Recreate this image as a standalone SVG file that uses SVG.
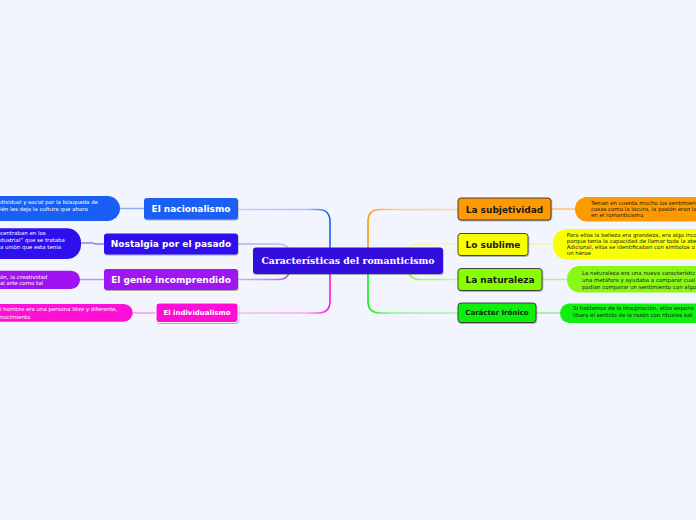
<svg xmlns="http://www.w3.org/2000/svg" width="696" height="520" viewBox="0 0 696 520">
<defs>
<style>
.nt{font-family:"DejaVu Sans",Verdana,sans-serif;font-weight:bold;font-size:9px;text-anchor:middle}
.sm{font-size:7px}
.bt{font-family:"DejaVu Sans",Verdana,sans-serif;font-size:5.45px}
.w{fill:#ffffff}
.k{fill:#1a1a1a}
.cn{fill:none;stroke-width:1.6;stroke-linecap:round}
.rb{stroke:#333333;stroke-width:0.9}
</style>
<filter id="sh" x="-10%" y="-20%" width="120%" height="160%">
<feDropShadow dx="0.6" dy="1" stdDeviation="0.6" flood-color="#000" flood-opacity="0.3"/>
</filter>
<linearGradient id="gB" gradientUnits="userSpaceOnUse" x1="238" y1="0" x2="330" y2="0"><stop offset="0" stop-color="#c2d2fa"/><stop offset="0.75" stop-color="#a9c0f8"/><stop offset="1" stop-color="#1a5ff3"/></linearGradient>
<linearGradient id="gN" gradientUnits="userSpaceOnUse" x1="238" y1="0" x2="290" y2="0"><stop offset="0" stop-color="#b6a8f6"/><stop offset="1" stop-color="#c8b8f8"/></linearGradient>
<linearGradient id="gG" gradientUnits="userSpaceOnUse" x1="238" y1="0" x2="290" y2="0"><stop offset="0" stop-color="#d8b0f8"/><stop offset="1" stop-color="#b060f0"/></linearGradient>
<linearGradient id="gM" gradientUnits="userSpaceOnUse" x1="238" y1="0" x2="330" y2="0"><stop offset="0" stop-color="#fbb8ef"/><stop offset="0.75" stop-color="#fca8ec"/><stop offset="1" stop-color="#ff10d4"/></linearGradient>
<linearGradient id="gO" gradientUnits="userSpaceOnUse" x1="458" y1="0" x2="368" y2="0"><stop offset="0" stop-color="#fcd6a6"/><stop offset="0.75" stop-color="#fcc888"/><stop offset="1" stop-color="#ff9a10"/></linearGradient>
<linearGradient id="gY" gradientUnits="userSpaceOnUse" x1="458" y1="0" x2="408" y2="0"><stop offset="0" stop-color="#f4f8a8"/><stop offset="1" stop-color="#f8fa80"/></linearGradient>
<linearGradient id="gL" gradientUnits="userSpaceOnUse" x1="458" y1="0" x2="408" y2="0"><stop offset="0" stop-color="#c8f8a0"/><stop offset="1" stop-color="#9cf050"/></linearGradient>
<linearGradient id="gE" gradientUnits="userSpaceOnUse" x1="458" y1="0" x2="368" y2="0"><stop offset="0" stop-color="#a8f8a8"/><stop offset="0.75" stop-color="#88f888"/><stop offset="1" stop-color="#10ee10"/></linearGradient>
</defs>
<rect width="696" height="520" fill="#f2f5fd"/>

<g id="connectors">
<path class="cn" stroke="url(#gB)" d="M238,209.5 H318 Q330,209.5 330,221.5 V250"/>
<path class="cn" stroke="url(#gN)" d="M238,244 H278 Q290,244 290,256"/>
<path class="cn" stroke="url(#gG)" d="M238,279.5 H278 Q290,279.5 290,267"/>
<path class="cn" stroke="url(#gM)" d="M238,313 H318 Q330,313 330,301 V272"/>
<path class="cn" stroke="url(#gO)" d="M458,209.5 H380 Q368,209.5 368,221.5 V250"/>
<path class="cn" stroke="url(#gY)" d="M458,244 H420 Q408,244 408,256"/>
<path class="cn" stroke="url(#gL)" d="M458,279.5 H420 Q408,279.5 408,267"/>
<path class="cn" stroke="url(#gE)" d="M458,313 H380 Q368,313 368,301 V272"/>
<path class="cn" stroke="#8fb0f6" d="M118,208.5 H144"/>
<path class="cn" stroke="#8f80f2" d="M79,243 H92 L96,244 H104"/>
<path class="cn" stroke="#c890f4" d="M78,279.5 H104"/>
<path class="cn" stroke="#fb98ea" d="M130,313 H156"/>
<path class="cn" stroke="#fcc27c" d="M551,209 H577"/>
<path class="cn" stroke="#f4f890" d="M528,244 H555"/>
<path class="cn" stroke="#b4f27c" d="M542,279.5 H569"/>
<path class="cn" stroke="#8cf48c" d="M536,313 H562"/>
</g>

<g id="center">
<rect x="253" y="247.5" width="190" height="26.5" rx="3" fill="#3210dc" filter="url(#sh)"/>
<text x="348" y="264.3" text-anchor="middle" font-family="'DejaVu Serif','Liberation Serif',serif" font-weight="bold" font-size="9.3" fill="#ffffff">Características del romanticismo</text>
</g>

<g id="nacionalismo">
<rect x="-20" y="196" width="140" height="25" rx="12.5" fill="#1a5ff3"/>
<text class="bt w" x="0" y="204.3">dividual y social por la búsqueda de</text>
<text class="bt w" x="0" y="211">ién les dejo la cultura que ahora</text>
<rect x="144" y="198" width="94" height="21.5" rx="3" fill="#1a5ff3" filter="url(#sh)"/>
<text class="nt w" x="191" y="212.3">El nacionalismo</text>
</g>

<g id="nostalgia">
<rect x="-20" y="228.3" width="101" height="30.7" rx="14" fill="#2e10ee"/>
<text class="bt w" x="0" y="235.3">centraban en los</text>
<text class="bt w" x="0" y="242">dustrial” que se trataba</text>
<text class="bt w" x="0" y="248.7">a unión que esta tenia</text>
<rect x="104" y="233.5" width="134" height="21" rx="3" fill="#2e10ee" filter="url(#sh)"/>
<text class="nt w" x="171" y="247.3">Nostalgia por el pasado</text>
</g>

<g id="genio">
<rect x="-20" y="270.7" width="100" height="18.3" rx="9" fill="#a012f0"/>
<text class="bt w" x="0" y="278.6">ón, la creatividad</text>
<text class="bt w" x="0" y="285.3">al arte como tal</text>
<rect x="104" y="269" width="134" height="21" rx="3" fill="#a012f0" filter="url(#sh)"/>
<text class="nt w" x="171" y="282.8">El genio incomprendido</text>
</g>

<g id="individualismo">
<rect x="-20" y="304" width="152.7" height="17.7" rx="8.8" fill="#ff10d6"/>
<text class="bt w" x="0" y="311">l hombre era una persona libre y diferente,</text>
<text class="bt w" x="0" y="318.6">nocimiento</text>
<rect x="156" y="303" width="82" height="19.5" rx="3" fill="#ff10d6" stroke="#ffffff" stroke-width="1" filter="url(#sh)"/>
<text class="nt sm w" x="197" y="315.3">El individualismo</text>
</g>

<g id="subjetividad">
<rect x="458" y="198" width="93" height="22" rx="3" fill="#ff9900" class="rb" filter="url(#sh)"/>
<text class="nt k" x="504.5" y="212.5">La subjetividad</text>
<rect x="575" y="197" width="140" height="24.5" rx="12" fill="#ff9900"/>
<text class="bt k" x="591" y="205.2">Tenian en cuenta mucho los sentimien</text>
<text class="bt k" x="591" y="211">cosas como la locura, la pasión eran la</text>
<text class="bt k" x="591" y="217">en el romanticismo</text>
</g>

<g id="sublime">
<rect x="458" y="233.5" width="70" height="22" rx="3" fill="#f8ff00" class="rb" filter="url(#sh)"/>
<text class="nt k" x="493" y="248">Lo sublime</text>
<rect x="553" y="229" width="160" height="30.5" rx="14" fill="#f8ff00"/>
<text class="bt k" x="566.7" y="236.8">Para ellos la belleza era grandeza, era algo inco</text>
<text class="bt k" x="566.7" y="242.8">porque tenia la capacidad de llamar toda la ate</text>
<text class="bt k" x="566.7" y="249.4">Adicional, ellos se identificaban con simbolos o</text>
<text class="bt k" x="566.7" y="255.4">un héroe</text>
</g>

<g id="naturaleza">
<rect x="458" y="268.5" width="84" height="22" rx="3" fill="#88ff00" class="rb" filter="url(#sh)"/>
<text class="nt k" x="500" y="283">La naturaleza</text>
<rect x="567" y="266" width="150" height="26.5" rx="12.5" fill="#88f814"/>
<text class="bt k" x="582" y="275.2">La naturaleza era una nueva característic</text>
<text class="bt k" x="582" y="281.9">una metáfora y ayudaba a comparar cual</text>
<text class="bt k" x="582" y="288.6">podían comparar un sentimiento con algo</text>
</g>

<g id="ironico">
<rect x="458" y="303" width="78" height="19.5" rx="3" fill="#10f010" class="rb" filter="url(#sh)"/>
<text class="nt sm k" x="497" y="315.3">Carácter Irónico</text>
<rect x="560" y="303.5" width="150" height="19.5" rx="9.5" fill="#10f010"/>
<text class="bt k" x="573" y="310.2">Si hablamos de la imaginación, ellos expone</text>
<text class="bt k" x="573" y="317">libera el sentido de la razón con rituales sat</text>
</g>
</svg>
